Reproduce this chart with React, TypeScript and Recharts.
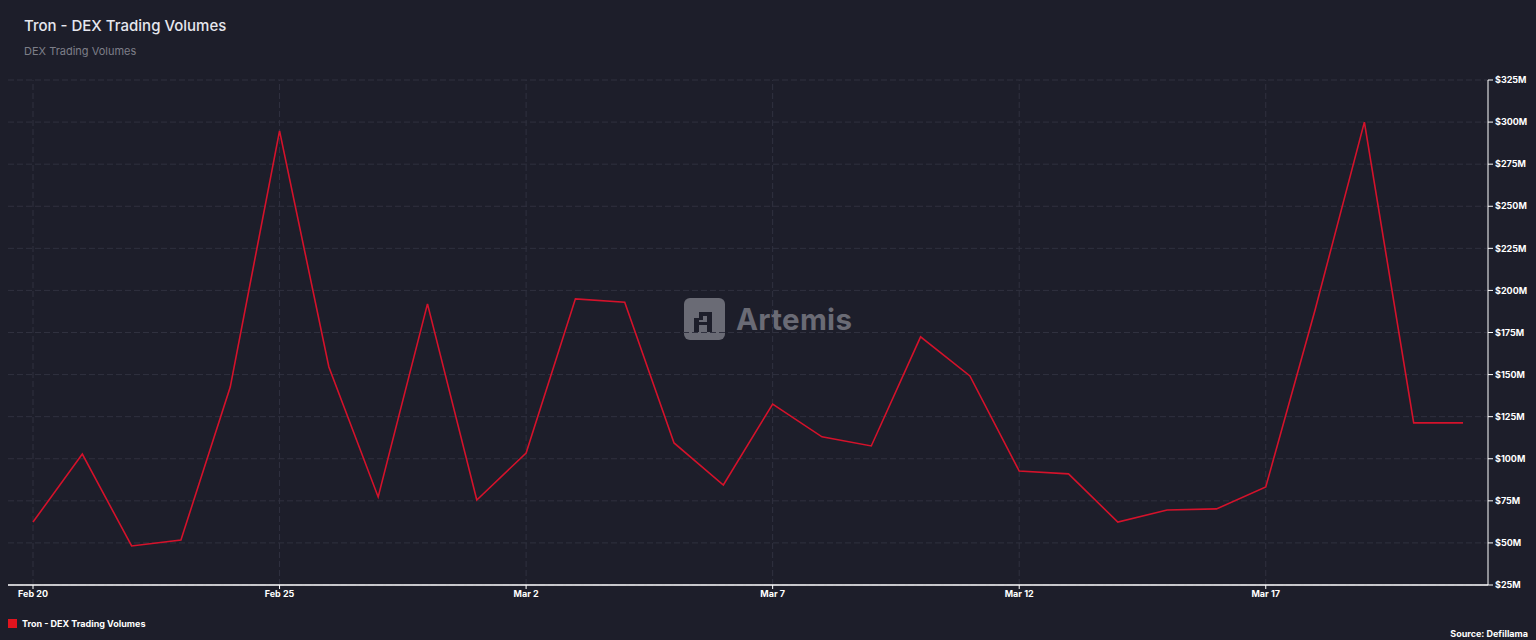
import React from "react";
import { LineChart, Line, XAxis, YAxis, CartesianGrid, ReferenceLine } from "recharts";

const dates = [
  "Feb 20", "Feb 21", "Feb 22", "Feb 23", "Feb 24", "Feb 25", "Feb 26", "Feb 27", "Feb 28",
  "Mar 1", "Mar 2", "Mar 3", "Mar 4", "Mar 5", "Mar 6", "Mar 7", "Mar 8", "Mar 9", "Mar 10",
  "Mar 11", "Mar 12", "Mar 13", "Mar 14", "Mar 15", "Mar 16", "Mar 17", "Mar 18", "Mar 19",
  "Mar 20", "Mar 21",
];

const volumes = [
  62.4, 102.8, 48.2, 51.7, 142.6, 294.8, 154.5, 77.3, 192, 75.5,
  103.4, 195, 193, 109.4, 84.4, 132.5, 113, 107.6, 172.4, 149.2,
  92.7, 91, 62.4, 69.6, 70.2, 83.2, 188.4, 300, 121.3, 121.3,
];

const xTicks = ["Feb 20", "Feb 25", "Mar 2", "Mar 7", "Mar 12", "Mar 17"];
const yTicks = [25, 50, 75, 100, 125, 150, 175, 200, 225, 250, 275, 300, 325];

const data = dates.map((d, i) => ({ date: d, value: volumes[i] }));

const BG = "#1d1e2a";
const GRID = "#30313f";
const FONT = "Inter, 'Noto Sans', Arial, sans-serif";

export default function App() {
  return (
    <div
      style={{
        position: "absolute",
        left: 0,
        top: 0,
        width: 1536,
        height: 640,
        background: BG,
        fontFamily: FONT,
        overflow: "hidden",
      }}
    >
      <div style={{ position: "absolute", left: 24, top: 16, fontSize: 15, color: "#e6e7ee", fontWeight: 500 }}>
        Tron - DEX Trading Volumes
      </div>
      <div style={{ position: "absolute", left: 24, top: 44, fontSize: 11, color: "#7d7e89" }}>
        DEX Trading Volumes
      </div>

      {/* watermark */}
      <div
        style={{
          position: "absolute",
          left: 684,
          top: 298,
          display: "flex",
          alignItems: "center",
          gap: 11,
        }}
      >
        <svg width={41} height={42} viewBox="0 0 41 42">
          <rect x={0} y={0} width={41} height={42} rx={6} fill="#6a6b75" />
          <path d="M10 34 V20 H15 V14 H28 V34 H23 V27 H15 V34 Z M15 22 V24 H23 V18 H19 V22 Z" fill="#1d1e2a" />
        </svg>
        <span style={{ fontSize: 29.5, fontWeight: 700, color: "#6a6b75", letterSpacing: 0.3 }}>Artemis</span>
      </div>

      <div style={{ position: "absolute", left: 0, top: 0 }}>
        <LineChart
          width={1536}
          height={640}
          data={data}
          margin={{ top: 80, right: 4, left: 8, bottom: 25 }}
        >
          <CartesianGrid stroke={GRID} strokeDasharray="6 3" vertical={false} />
          {xTicks.map((t) => (
            <ReferenceLine key={t} x={t} stroke={GRID} strokeDasharray="6 3" />
          ))}
          <XAxis
            dataKey="date"
            ticks={xTicks}
            interval={0}
            padding={{ left: 25, right: 25 }}
            axisLine={{ stroke: "#ffffff", strokeWidth: 1.5 }}
            tickLine={{ stroke: "#ffffff" }}
            tickSize={4}
            tick={{ fill: "#ffffff", fontSize: 9, fontWeight: 700 }}
            height={30}
          />
          <YAxis
            orientation="right"
            domain={[25, 325]}
            ticks={yTicks}
            interval={0}
            axisLine={{ stroke: "#ffffff", strokeWidth: 1 }}
            tickLine={{ stroke: "#ffffff" }}
            tickSize={5}
            tick={{ fill: "#ffffff", fontSize: 9, fontWeight: 700, textAnchor: "start" }}
            tickFormatter={(v: number) => `$${v}M`}
            width={44}
          />
          <Line
            type="linear"
            dataKey="value"
            stroke="#d4122b"
            strokeWidth={1.6}
            dot={false}
            isAnimationActive={false}
          />
        </LineChart>
      </div>

      {/* legend */}
      <div style={{ position: "absolute", left: 8, top: 618, display: "flex", alignItems: "center", gap: 5 }}>
        <div style={{ width: 9, height: 9, background: "#e0141e" }} />
        <span style={{ fontSize: 9, fontWeight: 700, color: "#ffffff" }}>Tron - DEX Trading Volumes</span>
      </div>
      <div style={{ position: "absolute", right: 8, top: 628, fontSize: 9, fontWeight: 700, color: "#ffffff" }}>
        Source: Defillama
      </div>
    </div>
  );
}
